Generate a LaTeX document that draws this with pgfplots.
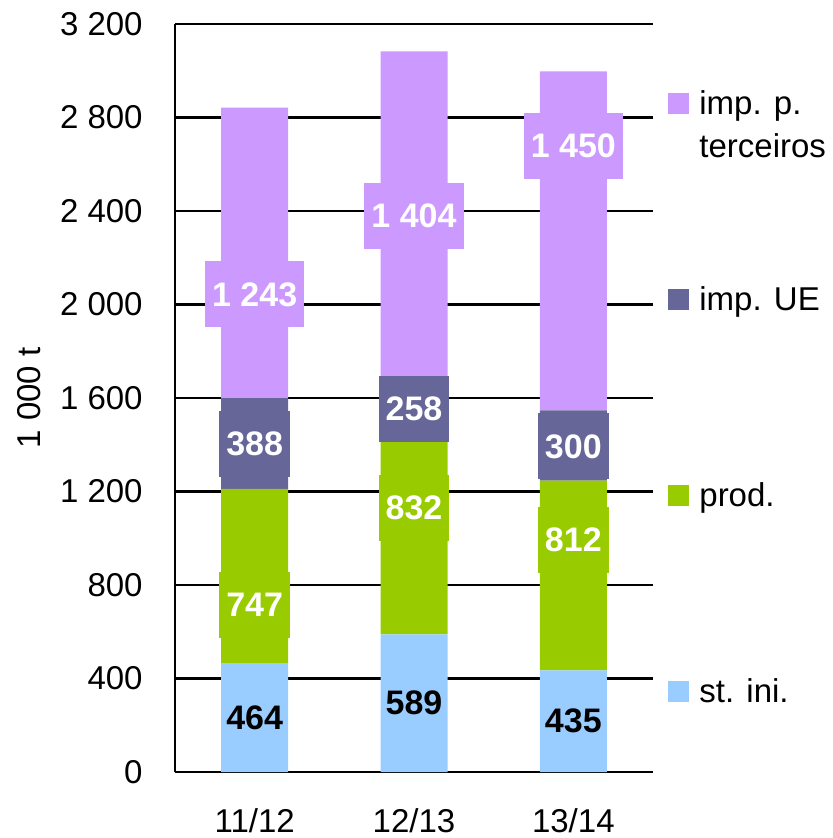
\documentclass[border=0pt]{standalone}
\usepackage{pgfplots}
\usepackage{pgfplotstable}
\pgfplotsset{compat=1.18}
\usepackage{fontspec}
\setmainfont{Liberation Sans}
\definecolor{stini}{HTML}{99CCFF}
\definecolor{cprod}{HTML}{99CC00}
\definecolor{cue}{HTML}{666699}
\definecolor{cterc}{HTML}{CC99FF}

% x = category, v = value, ly = position of the value label
\pgfplotstableread{
x v ly
0 464 232
1 589 294.5
2 435 217.5
}\tstini
\pgfplotstableread{
x v ly
0 747 714
1 832 1129
2 812 993
}\tprod
\pgfplotstableread{
x v ly
0 388 1404
1 258 1553
2 300 1393
}\tue
\pgfplotstableread{
x v ly
0 1243 2043
1 1404 2379
2 1450 2680
}\tterc

\pgfplotsset{
  common/.style={scale only axis, width=239bp, height=374bp,
    xmin=-0.5, xmax=2.5, ymin=0, ymax=3200, enlargelimits=false,
    /pgf/number format/1000 sep={\ },
    /pgf/number format/assume math mode=true},
  sq/.style={legend image code/.code={\fill[##1] (0bp,-4bp) rectangle (10.5bp,6.5bp);}},
  lbl/.style={only marks, mark=none, point meta=explicit,
    nodes near coords={\pgfmathprintnumber{\pgfplotspointmeta}},
    nodes near coords align=center,
    every node near coord/.style={fill=#1, text=white, font=\bfseries\fontsize{17bp}{20bp}\selectfont,
      minimum height=33bp, inner xsep=3.5bp, inner ysep=0pt, anchor=center}},
}

\begin{document}
\fontsize{16.5bp}{19.8bp}\selectfont
\begin{tikzpicture}
\useasboundingbox (-87.5bp,-33bp) rectangle (329bp,386bp);
\begin{axis}[
  common,
  ybar stacked, bar width=33.5bp,
  xtick={0,1,2}, xticklabels={11/12,12/13,13/14},
  ytick={0,400,...,3200},
  scaled y ticks=false,
  axis x line*=bottom, axis y line*=left,
  axis line style={line width=1bp, black},
  x tick style={draw=none},
  y tick style={line width=1bp, black},
  tick align=inside, major tick length=3bp,
  ymajorgrids, grid style={black, line width=1.1bp},
  yticklabel style={inner sep=0pt, xshift=-16bp},
  xticklabel style={inner sep=0pt, yshift=-18bp},
  ylabel={1\ 000 t},
  ylabel style={at={(axis description cs:-0.3054,0.5)}, anchor=center},
  legend style={at={(1.0314,0.9118)}, anchor=north west, draw=none, fill=none,
    inner sep=0pt, row sep=82bp, column sep=5bp,
    nodes={inner sep=0pt, text height=12bp, text depth=4bp}},
  legend cell align=left,
  reverse legend,
]
\addplot[fill=stini, draw=none, sq] table[x=x, y=v]{\tstini};
\addlegendentry{st. ini.}
\addplot[fill=cprod, draw=none, sq] table[x=x, y=v]{\tprod};
\addlegendentry{prod.}
\addplot[fill=cue, draw=none, sq] table[x=x, y=v]{\tue};
\addlegendentry{imp. UE}
\addplot[fill=cterc, draw=none, sq] table[x=x, y=v]{\tterc};
\addlegendentry{\vtop{\baselineskip=21.5bp\hbox{imp. p.}\hbox{terceiros}}}
\end{axis}
\begin{axis}[common, hide axis]
\addplot[lbl=none, every node near coord/.append style={text=black}] table[x=x, y=ly, meta=v]{\tstini};
\addplot[lbl=cprod] table[x=x, y=ly, meta=v]{\tprod};
\addplot[lbl=cue] table[x=x, y=ly, meta=v]{\tue};
\addplot[lbl=cterc] table[x=x, y=ly, meta=v]{\tterc};
\end{axis}
\end{tikzpicture}
\end{document}
